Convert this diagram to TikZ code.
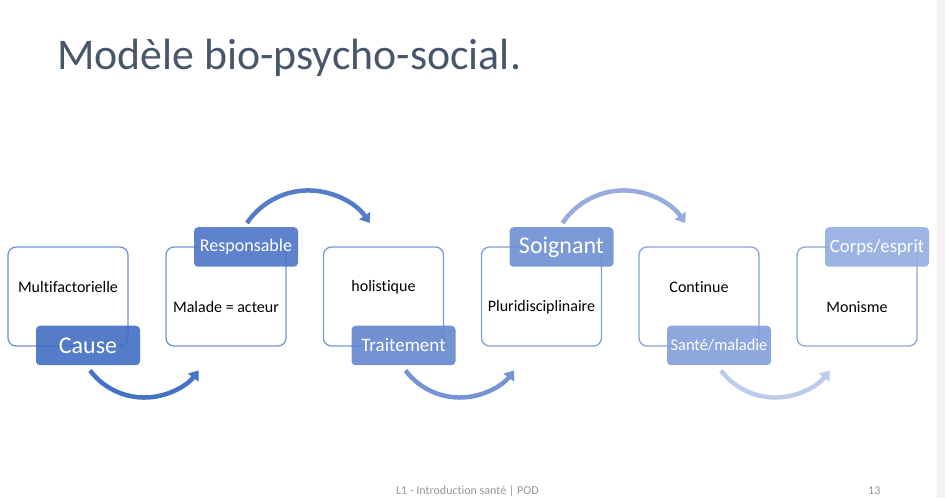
\documentclass[tikz,border=0pt]{standalone}
\usepackage{fontspec}
\setmainfont{Carlito}[Ligatures=NoCommon]
\usetikzlibrary{calc,arrows.meta}
\definecolor{titlec}{RGB}{72,86,108}
\definecolor{footc}{RGB}{150,150,150}
\definecolor{edgec}{RGB}{243,243,243}
\definecolor{l1}{RGB}{66,110,194}
\definecolor{l2}{RGB}{77,118,199}
\definecolor{l3}{RGB}{99,134,207}
\definecolor{l4}{RGB}{108,142,209}
\definecolor{l5}{RGB}{130,158,218}
\definecolor{l6}{RGB}{147,172,225}
\definecolor{o1}{RGB}{112,146,212}
\definecolor{o2}{RGB}{116,149,213}
\definecolor{o3}{RGB}{122,153,215}
\definecolor{o4}{RGB}{128,158,217}
\definecolor{o5}{RGB}{134,162,219}
\definecolor{o6}{RGB}{140,167,221}
\definecolor{a1}{RGB}{68,114,196}
\definecolor{a2}{RGB}{84,124,200}
\definecolor{a3}{RGB}{118,148,212}
\definecolor{a4}{RGB}{150,172,223}
\definecolor{a5}{RGB}{190,204,236}
\tikzset{
  blockbox/.style={draw=#1, line width=1.3pt, rounded corners=8pt, fill=white,
    minimum width=120pt, minimum height=99pt, inner sep=0pt},
  tagbox/.style={fill=#1, fill opacity=0.9, text opacity=1, text=white,
    rounded corners=4pt, minimum width=104pt, minimum height=39.5pt, inner sep=0pt},
  boxtext/.style={font=\fontsize{16}{19}\selectfont, text=black, inner sep=0pt},
  curvearrow/.style={draw=#1, line width=4.5pt, -{Triangle[length=9pt,width=13pt]}}
}
\begin{document}
\begin{tikzpicture}[x=1pt,y=1pt]
\useasboundingbox (0,0) rectangle (945,498);
\clip (0,0) rectangle (945,498);
\fill[edgec] (937,0) rectangle (945,498);

\node[anchor=base west, inner sep=0pt, text=titlec, font=\fontsize{43.8}{50}\selectfont] (title) at (57,428) {Modèle bio-psycho-social.};

% blocks
\node[blockbox=o1] (b1) at (68,201.5) {};
\node[blockbox=o2] (b2) at (226,201.5) {};
\node[blockbox=o3] (b3) at (383.5,201.5) {};
\node[blockbox=o4] (b4) at (541.5,201.5) {};
\node[blockbox=o5] (b5) at (699,201.5) {};
\node[blockbox=o6] (b6) at (857,201.5) {};

\node[boxtext] (t1) at ($(b1.center)+(0,9.5)$) {Multifactorielle};
\node[boxtext] (t2) at ($(b2.center)+(0,-10.5)$) {Malade = acteur};
\node[boxtext] (t3) at ($(b3.center)+(0,9.5)$) {holistique};
\node[boxtext] (t4) at ($(b4.center)+(0,-10.5)$) {Pluridisciplinaire};
\node[boxtext] (t5) at ($(b5.center)+(0,9.5)$) {Continue};
\node[boxtext] (t6) at ($(b6.center)+(0,-10.5)$) {Monisme};

% tags
\node[tagbox=l1, font=\fontsize{24}{26}\selectfont] (g1) at ($(b1.center)+(20,-49)$) {Cause};
\node[tagbox=l2, font=\fontsize{18}{20}\selectfont] (g2) at ($(b2.center)+(20,49.5)$) {Responsable};
\node[tagbox=l3, font=\fontsize{19}{21}\selectfont] (g3) at ($(b3.center)+(20,-49)$) {Traitement};
\node[tagbox=l4, font=\fontsize{24}{26}\selectfont] (g4) at ($(b4.center)+(20,49.5)$) {Soignant};
\node[tagbox=l5, font=\fontsize{16.4}{18}\selectfont] (g5) at ($(b5.center)+(20,-49)$) {Santé/maladie};
\node[tagbox=l6, font=\fontsize{18.8}{20}\selectfont] (g6) at ($(b6.center)+(20,49.5)$) {Corps/esprit};

% arrows
\draw[curvearrow=a1] ($(g1.south)+(2,-5)$) arc[start angle=217, end angle=323, radius=68];
\draw[curvearrow=a2] ($(g2.north)+(1,4)$) arc[start angle=146, end angle=34, radius=74];
\draw[curvearrow=a3] ($(g3.south)+(2,-5)$) arc[start angle=217, end angle=323, radius=68];
\draw[curvearrow=a4] ($(g4.north)+(1,4)$) arc[start angle=146, end angle=34, radius=74];
\draw[curvearrow=a5] ($(g5.south)+(2,-5)$) arc[start angle=217, end angle=323, radius=68];

% footer
\node[anchor=base west, inner sep=0pt, text=footc, font=\fontsize{12}{14}\selectfont] (foot) at (396,4) {L1 - Introduction santé | POD};
\node[anchor=base west, inner sep=0pt, text=footc, font=\fontsize{12}{14}\selectfont] (page) at (868,4) {13};
\end{tikzpicture}
\end{document}
